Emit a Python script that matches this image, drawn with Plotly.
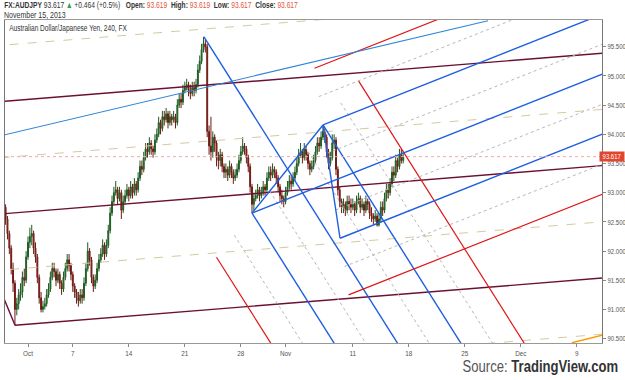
import plotly.graph_objects as go

# ---------------- data ----------------
# 4-hour candles, AUD/JPY, Sep 27 -> Nov 15 2013 (x axis in trading days, Oct 1 = 0)
bar_start_day = -2.0
bars_per_day = 6
first_open = 92.75

closes = [
    92.55, 92.30, 92.05, 91.70, 91.45, 91.00, 91.10, 91.25, 91.30, 91.55,
    91.50, 91.90, 92.15, 92.25, 92.30, 92.05, 91.90, 91.55, 91.20, 91.00,
    91.05, 91.10, 91.25, 91.35, 91.55, 91.70, 91.65, 91.50, 91.60, 91.45,
    91.35, 91.55, 91.70, 91.85, 91.75, 91.60, 91.40, 91.30, 91.20, 91.15,
    91.25, 91.20, 91.45, 91.70, 92.00, 91.85, 91.55, 91.40, 91.50, 91.70,
    91.85, 91.95, 92.10, 91.95, 92.10, 92.35, 92.65, 92.85, 93.00, 93.05,
    92.90, 93.00, 92.70, 92.85, 92.95, 93.05, 92.95, 93.10, 93.00, 93.15,
    93.05, 93.25, 93.45, 93.40, 93.60, 93.75, 93.70, 93.85, 93.75, 93.70,
    93.90, 94.00, 94.20, 94.10, 94.30, 94.25, 94.35, 94.20, 94.30, 94.25,
    94.30, 94.20, 94.50, 94.60, 94.55, 94.75, 94.80, 94.85, 94.75, 94.70,
    94.80, 94.75, 94.85, 95.10, 95.25, 95.45, 95.55, 95.50, 94.05, 93.80,
    93.70, 93.95, 93.85, 93.60, 93.55, 93.65, 93.45, 93.35, 93.40, 93.30,
    93.45, 93.35, 93.25, 93.30, 93.40, 93.55, 93.70, 93.80, 93.75, 93.60,
    93.45, 93.10, 92.80, 92.90, 92.95, 93.05, 92.95, 93.00, 93.10, 93.05,
    93.25, 93.35, 93.30, 93.40, 93.35, 93.25, 93.10, 92.95, 92.90, 92.85,
    93.00, 93.10, 93.20, 93.15, 93.25, 93.35, 93.50, 93.65, 93.70, 93.60,
    93.75, 93.65, 93.50, 93.40, 93.45, 93.55, 93.70, 93.85, 93.80, 93.95,
    94.05, 93.95, 93.70, 93.50, 93.60, 93.85, 93.90, 93.40, 93.05, 92.85,
    92.75, 92.80, 92.70, 92.85, 92.80, 92.75, 92.80, 92.70, 92.85, 92.90,
    92.75, 92.80, 92.70, 92.85, 92.80, 92.65, 92.60, 92.55, 92.60, 92.45,
    92.55, 92.75, 92.70, 92.90, 93.05, 93.00, 93.15, 93.35, 93.30, 93.55,
    93.45, 93.65, 93.55, 93.617,
]
highs = [
    92.80, 92.60, 92.35, 92.10, 91.80, 91.50, 91.20, 91.35, 91.45, 91.65,
    91.70, 92.00, 92.25, 92.40, 92.45, 92.35, 92.15, 91.95, 91.60, 91.30,
    91.15, 91.20, 91.35, 91.45, 91.65, 91.80, 91.80, 91.70, 91.70, 91.65,
    91.50, 91.65, 91.80, 91.95, 91.95, 91.80, 91.65, 91.45, 91.35, 91.30,
    91.35, 91.35, 91.55, 91.80, 92.15, 92.05, 91.90, 91.60, 91.60, 91.80,
    91.95, 92.05, 92.20, 92.15, 92.20, 92.45, 92.75, 92.95, 93.10, 93.20,
    93.10, 93.10, 93.05, 92.95, 93.05, 93.15, 93.10, 93.20, 93.15, 93.25,
    93.20, 93.35, 93.55, 93.55, 93.70, 93.85, 93.85, 93.95, 93.90, 93.80,
    94.00, 94.10, 94.30, 94.25, 94.40, 94.40, 94.45, 94.40, 94.40, 94.35,
    94.40, 94.35, 94.60, 94.70, 94.70, 94.85, 94.90, 94.95, 94.90, 94.85,
    94.90, 94.90, 94.95, 95.20, 95.35, 95.55, 95.67, 95.62, 95.55, 94.15,
    94.30, 94.05, 94.00, 93.90, 93.70, 93.75, 93.70, 93.50, 93.50, 93.45,
    93.55, 93.50, 93.40, 93.40, 93.50, 93.65, 93.80, 93.95, 93.85, 93.80,
    93.65, 93.50, 93.15, 93.00, 93.05, 93.15, 93.10, 93.10, 93.20, 93.15,
    93.35, 93.45, 93.45, 93.50, 93.45, 93.40, 93.30, 93.15, 93.05, 92.95,
    93.10, 93.20, 93.30, 93.30, 93.35, 93.45, 93.60, 93.75, 93.85, 93.75,
    93.85, 93.80, 93.70, 93.55, 93.55, 93.65, 93.80, 93.95, 93.95, 94.05,
    94.15, 94.10, 94.00, 93.75, 93.70, 94.00, 94.00, 93.95, 93.45, 93.10,
    92.90, 92.90, 92.85, 92.95, 92.95, 92.90, 92.90, 92.85, 92.95, 93.00,
    92.95, 92.90, 92.85, 92.95, 92.90, 92.85, 92.75, 92.65, 92.70, 92.65,
    92.65, 92.85, 92.85, 93.00, 93.15, 93.15, 93.25, 93.45, 93.45, 93.65,
    93.60, 93.75, 93.75, 93.70,
]
lows = [
    92.45, 92.20, 91.95, 91.60, 91.30, 90.73, 90.90, 91.00, 91.15, 91.20,
    91.40, 91.45, 91.85, 92.05, 92.10, 91.95, 91.80, 91.45, 91.10, 90.95,
    90.95, 91.00, 91.05, 91.20, 91.30, 91.50, 91.55, 91.40, 91.45, 91.35,
    91.25, 91.30, 91.50, 91.65, 91.65, 91.50, 91.30, 91.20, 91.10, 91.05,
    91.10, 91.10, 91.15, 91.40, 91.65, 91.75, 91.45, 91.30, 91.35, 91.45,
    91.65, 91.80, 91.90, 91.85, 91.90, 92.05, 92.30, 92.60, 92.80, 92.95,
    92.80, 92.85, 92.55, 92.65, 92.80, 92.90, 92.85, 92.90, 92.90, 92.95,
    92.95, 93.00, 93.20, 93.30, 93.35, 93.55, 93.60, 93.65, 93.65, 93.60,
    93.65, 93.85, 93.95, 94.00, 94.05, 94.15, 94.20, 94.10, 94.15, 94.15,
    94.20, 94.10, 94.15, 94.45, 94.45, 94.50, 94.70, 94.75, 94.65, 94.60,
    94.65, 94.65, 94.70, 94.80, 95.05, 95.20, 95.40, 95.40, 93.95, 93.65,
    93.55, 93.60, 93.70, 93.45, 93.40, 93.45, 93.35, 93.25, 93.25, 93.20,
    93.25, 93.25, 93.15, 93.20, 93.25, 93.35, 93.50, 93.65, 93.65, 93.50,
    93.35, 93.00, 92.65, 92.70, 92.85, 92.90, 92.85, 92.90, 92.95, 92.95,
    93.00, 93.20, 93.20, 93.25, 93.25, 93.15, 93.00, 92.85, 92.80, 92.75,
    92.80, 92.95, 93.05, 93.05, 93.10, 93.20, 93.30, 93.45, 93.60, 93.50,
    93.55, 93.55, 93.40, 93.30, 93.35, 93.40, 93.50, 93.65, 93.70, 93.75,
    93.90, 93.85, 93.60, 93.40, 93.45, 93.55, 93.75, 93.30, 92.95, 92.75,
    92.65, 92.65, 92.60, 92.65, 92.70, 92.65, 92.70, 92.60, 92.65, 92.80,
    92.65, 92.70, 92.60, 92.65, 92.70, 92.55, 92.50, 92.45, 92.50, 92.42,
    92.42, 92.50, 92.60, 92.65, 92.85, 92.90, 92.95, 93.10, 93.20, 93.25,
    93.35, 93.40, 93.50, 93.50,
]
last_price = 93.617

# x-axis labels (trading-day index)
tick_days = [0, 4, 9, 14, 19, 23, 29, 34, 39, 44, 49]
tick_labels = ["Oct", "7", "14", "21", "28", "Nov", "11", "18", "25", "Dec", "9"]
price_ticks = [90.5, 91.0, 91.5, 92.0, 92.5, 93.0, 93.5, 94.0, 94.5, 95.0, 95.5]

# pitchfork anchors (trading day, price): A, B, C
fork_maroon = [(-24.82, 92.29), (-1.16, 90.73), (-9.24, 94.455)]
fork_blue1 = [(15.71, 95.67), (20.0, 92.65), (26.34, 94.16)]
fork_blue2 = [(20.0, 92.65), (26.34, 94.16), (27.86, 92.22)]
# free trend line and orange segment (trading day, price)
trend_blue = [(-3.0, 93.95), (41.07, 95.945)]
trend_orange = [(48.57, 90.43), (51.3, 90.56)]

x_range = [-2.054, 51.25]
y_range = [90.426, 95.957]

# ---------------- figure ----------------
opens = [first_open] + closes[:-1]
xs = [bar_start_day + i / bars_per_day for i in range(len(closes))]

fig = go.Figure()

T_END = 70.0


def add_line(p0, p1, color, width, dash="solid"):
    fig.add_trace(go.Scatter(x=[p0[0], p1[0]], y=[p0[1], p1[1]], mode="lines",
                             line=dict(color=color, width=width, dash=dash),
                             hoverinfo="skip", showlegend=False))


def add_fork(A, B, C, main_color, half_style, two_color):
    M = ((B[0] + C[0]) / 2, (B[1] + C[1]) / 2)
    d = (M[0] - A[0], M[1] - A[1])
    h = (C[0] - M[0], C[1] - M[1])
    for lev in [-2, -1.5, -1, -0.5, 0, 0.5, 1, 1.5, 2]:
        if lev == 0:
            s = A
        else:
            s = (M[0] + lev * h[0], M[1] + lev * h[1])
        k = (T_END - s[0]) / d[0]
        e = (s[0] + k * d[0], s[1] + k * d[1])
        if lev in (0, 1, -1):
            add_line(s, e, main_color, 1.4)
        elif abs(lev) == 2:
            if two_color:
                add_line(s, e, two_color, 1.2)
        else:
            add_line(s, e, half_style[0], 1, half_style[1])
    add_line(B, C, main_color, 1.4)


add_fork(*fork_maroon, "#6b1035", ("#d8c8a0", "dash"), None)
add_fork(*fork_blue1, "#1f5fe0", ("#b8b8b8", "dot"), "#e01515")
add_fork(*fork_blue2, "#1f5fe0", ("#b8b8b8", "dot"), "#e01515")
add_line(trend_blue[0], trend_blue[1], "#2f86d6", 1.1)
add_line(trend_orange[0], trend_orange[1], "#ff9a00", 1.4)

# last price dotted line
fig.add_trace(go.Scatter(x=[x_range[0], x_range[1]], y=[last_price, last_price], mode="lines",
                         line=dict(color="#f0a8a8", width=1, dash="dot"),
                         hoverinfo="skip", showlegend=False))

fig.add_trace(go.Candlestick(
    x=xs, open=opens, high=highs, low=lows, close=closes,
    increasing=dict(line=dict(color="#1e5a22", width=1), fillcolor="#3f8f45"),
    decreasing=dict(line=dict(color="#6e1a12", width=1), fillcolor="#a8342a"),
    whiskerwidth=0, hoverinfo="skip", showlegend=False))

FONT = "Liberation Sans, Arial, sans-serif"

fig.update_layout(
    width=625, height=380,
    margin=dict(l=5, r=23, t=20, b=37, autoexpand=False),
    paper_bgcolor="white", plot_bgcolor="white",
    showlegend=False,
    font=dict(family=FONT, color="#444"),
    xaxis=dict(range=x_range, showgrid=False, zeroline=False, automargin=False,
               tickmode="array", tickvals=tick_days, ticktext=tick_labels,
               ticks="outside", ticklen=3, tickcolor="#888",
               tickfont=dict(size=7.5, color="#555"),
               showline=True, linecolor="#999", mirror=True,
               rangeslider=dict(visible=False)),
    yaxis=dict(range=y_range, showgrid=False, zeroline=False, side="right", automargin=False,
               tickmode="array", tickvals=price_ticks,
               ticktext=[f"{v:.3f}" for v in price_ticks],
               ticks="outside", ticklen=3, tickcolor="#888",
               tickfont=dict(size=7.5, color="#555"),
               showline=True, linecolor="#777", mirror=True),
)

L, R, T, B = 5, 602, 20, 343


def px_x(px):
    return (px - L) / (R - L)


def px_y(py):
    return (B - py) / (B - T)


nb = "\u00a0"
red = "#e4553f"
header = (f"<b>FX:AUDJPY</b> {last_price:.3f} <span style='color:#2e9e3e'>▲</span>"
          f" +0.464 (+0.5%){nb}{nb} <b>Open:</b> <span style='color:{red}'>93.619</span>"
          f"{nb} <b>High:</b> <span style='color:{red}'>93.619</span>"
          f"{nb} <b>Low:</b> <span style='color:{red}'>93.617</span>"
          f"{nb} <b>Close:</b> <span style='color:{red}'>93.617</span>")
fig.add_annotation(xref="paper", yref="paper", x=px_x(2), y=px_y(5), xanchor="left", yanchor="middle",
                   text=header, showarrow=False, font=dict(size=9, color="#333", family=FONT))
fig.add_annotation(xref="paper", yref="paper", x=px_x(2), y=px_y(14.5), xanchor="left", yanchor="middle",
                   text="November 15, 2013", showarrow=False, font=dict(size=9, color="#333", family=FONT))
fig.add_annotation(xref="paper", yref="paper", x=px_x(7), y=px_y(28), xanchor="left", yanchor="middle",
                   text="Australian Dollar/Japanese Yen, 240, FX", showarrow=False,
                   font=dict(size=9, color="#333", family=FONT))
fig.add_annotation(xref="paper", yref="y", x=px_x(625), y=last_price, xanchor="right", yanchor="middle",
                   text=f"{last_price:.3f}", showarrow=False, bgcolor="#e0462f", borderpad=1,
                   font=dict(size=7, color="white", family=FONT))
fig.add_annotation(xref="paper", yref="paper", x=px_x(620), y=px_y(366), xanchor="right", yanchor="middle",
                   text="<span style='color:#555'>Source:</span> <b>TradingView.com</b>", showarrow=False,
                   font=dict(size=17, color="#333", family=FONT))

# condense texts horizontally (the reference uses a narrow face)
post = """
(function(){
  function squeeze(t, f, anchor){
    if (t.getAttribute('data-sq')) return;
    var bb = t.getBBox();
    var x0 = anchor === 'left' ? bb.x : (anchor === 'right' ? bb.x + bb.width : bb.x + bb.width / 2);
    var orig = t.getAttribute('transform') || '';
    t.setAttribute('transform', orig + ' translate(' + x0 + ',0) scale(' + f + ',1) translate(' + (-x0) + ',0)');
    t.setAttribute('data-sq', '1');
  }
  function fix(){
    var gd = document.getElementById('{plot_id}');
    if(!gd) return;
    gd.querySelectorAll('g.annotation text.annotation-text').forEach(function(t){
      var s = t.textContent || '';
      if (s.indexOf('Source') >= 0) squeeze(t, 0.77, 'right');
      else if (s.indexOf('FX:AUDJPY') >= 0) squeeze(t, 0.74, 'left');
      else if (s.indexOf('Australian') >= 0) squeeze(t, 0.73, 'left');
      else if (s.indexOf('November') >= 0) squeeze(t, 0.78, 'left');
      else if (s.indexOf('93.617') >= 0) squeeze(t, 0.85, 'center');
    });
    gd.querySelectorAll('g.ytick text').forEach(function(t){ squeeze(t, 0.8, 'left'); });
    gd.querySelectorAll('g.xtick text').forEach(function(t){ squeeze(t, 0.85, 'center'); });
  }
  fix(); setTimeout(fix, 50); setTimeout(fix, 400);
})();
"""

fig.write_html("out.html", post_script=post)
